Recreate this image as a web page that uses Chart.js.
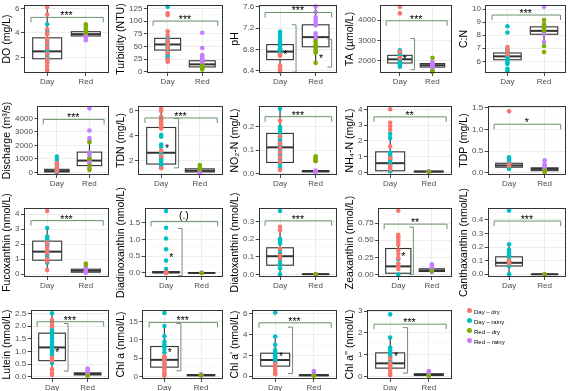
<!DOCTYPE html>
<html>
<head>
<meta charset="utf-8">
<script src="https://cdn.jsdelivr.net/npm/chart.js@4.4.0/dist/chart.umd.min.js"></script>
<style>
  body { margin: 0; background: #fff; width: 575px; height: 391px; overflow: hidden; position: relative; font-family: "Liberation Sans", Arial, sans-serif; }
  .cell { position: absolute; }
  .leg { position: absolute; font-size: 6px; color: #000; white-space: nowrap; line-height: 6px; }
  .leg i { position: absolute; left: -7px; top: -1px; width: 4.6px; height: 4.6px; border-radius: 50%; }
</style>
</head>
<body>
<div id="wrap"></div>
<script>
// groupes et séries
const groups = ['Day', 'Red'];
const seriesNames = ['Day – dry', 'Day – rainy', 'Red – dry', 'Red – rainy'];
const seriesColors = ['#F8766D', '#00BFC4', '#7CAE00', '#C77CFF'];

// boxes: [whisker low, q1, median, q3, whisker high]

// DO (mg/L)
const doDayDry = [6.1, 5.5, 4.3, 3.9, 3.5, 3.2, 2.8, 2.3, 1.9, 1.6, 1.3, 1.0, 0.9];
const doDayRainy = [4.7, 4.1, 3.3, 3.0, 2.7, 2.5, 2.3, 2.2, 2.0, 1.8, 1.6];
const doRedDry = [4.7, 4.5, 4.3, 4.1, 4.0];
const doRedRainy = [3.9, 3.8, 3.7, 3.6, 3.4];
const doBox = [[0.9, 1.9, 2.5, 3.6, 6.1], [3.4, 3.75, 3.9, 4.1, 4.7]];

// Turbidity (NTU)
const turbDayDry = [115, 112, 80, 72, 62, 55, 47, 38, 25, 20];
const turbDayRainy = [128, 66, 62, 58, 55, 52, 50, 45, 40, 35, 30, 27];
const turbRedDry = [13, 11, 9, 7, 5];
const turbRedRainy = [77, 47, 33, 30, 27, 24, 21, 19, 17, 15];
const turbBox = [[20, 43, 54, 66, 81], [4, 10, 15, 22, 33]];

// pH
const phDayDry = [6.7, 6.68, 6.5, 6.46, 6.42, 6.39];
const phDayRainy = [7.13, 7.1, 7.05, 7.0, 6.95, 6.92, 6.88, 6.85, 6.82, 6.8, 6.78, 6.75, 6.72];
const phRedDry = [6.95, 6.9, 6.87, 6.84, 6.8, 6.77, 6.74, 6.55];
const phRedRainy = [7.6, 7.5, 7.4, 7.35, 7.3, 7.25, 7.1, 7.05, 7.0, 6.98];
const phBox = [[6.39, 6.61, 6.76, 6.89, 7.13], [6.55, 6.85, 7.03, 7.26, 7.6]];

// TA (µmol/L)
const taDayDry = [4650, 4330, 2450, 2150];
const taDayRainy = [2520, 2430, 2350, 2280, 2200, 2150, 2080, 2000, 1950, 1880, 1800, 1720];
const taRedDry = [2160, 1500, 1460];
const taRedRainy = [1950, 1880, 1830, 1790, 1750, 1700, 1650, 1600];
const taBox = [[1720, 1900, 2080, 2275, 2520], [1460, 1700, 1790, 1870, 2160]];

// C:N
const cnDayDry = [7.1, 6.8, 6.5];
const cnDayRainy = [8.7, 8.22, 6.95, 6.8, 6.65, 6.55, 6.45, 6.35, 6.25, 6.15, 6.05, 5.9, 5.8, 5.43, 5.24];
const cnRedDry = [9.17, 8.85, 8.55, 8.35, 7.18, 6.71];
const cnRedRainy = [10.2, 8.75, 8.6, 8.45, 8.3, 8.2, 8.1, 7.49];
const cnBox = [[5.8, 6.12, 6.38, 6.64, 7.1], [7.49, 8.08, 8.34, 8.65, 9.17]];

// Discharge (m³/s)
const qDayDry = [675, 420, 200, 120, 60];
const qDayRainy = [1170, 920, 550, 300, 220, 150, 100, 60, 30, 10];
const qRedDry = [2230, 1000, 500, 170];
const qRedRainy = [4750, 3100, 2550, 2370, 1450, 1300, 1100, 880, 750, 600, 450, 300];
const qBox = [[0, 30, 90, 220, 550], [170, 500, 870, 1500, 2230]];

// TDN (mg/L)
const tdnDayDry = [6.15, 5.95, 5.5, 5.3, 5.1, 4.95, 4.8, 4.65, 4.55, 2.8, 2.35, 1.4];
const tdnDayRainy = [4.05, 3.9, 3.28, 3.1, 2.6, 2.4, 2.2, 2.0, 1.8, 1.6, 1.45];
const tdnRedDry = [1.65, 1.45, 1.3];
const tdnRedRainy = [1.2, 1.1, 1.0];
const tdnBox = [[1.37, 1.73, 2.63, 4.64, 6.15], [1.0, 1.1, 1.2, 1.35, 1.65]];

// NO2-N (mg/L)
const no2DayDry = [0.226, 0.16, 0.13, 0.11, 0.09, 0.068, 0.05, 0.015];
const no2DayRainy = [0.278, 0.2, 0.19, 0.18, 0.17, 0.16, 0.15, 0.14, 0.13, 0.12, 0.1, 0.08, 0.06, 0.04, 0.025];
const no2RedDry = [0.073, 0.068, 0.063, 0.058, 0.052];
const no2RedRainy = [0.012, 0.009, 0.007];
const no2Box = [[0.015, 0.047, 0.112, 0.172, 0.278], [0.005, 0.007, 0.009, 0.012, 0.015]];

// NH4-N (mg/L)
const nh4DayDry = [4.0, 3.15, 2.92, 2.7, 1.64, 0.9, 0.4, 0.2];
const nh4DayRainy = [2.43, 2.18, 1.25, 1.1, 0.95, 0.8, 0.65, 0.5, 0.36, 0.15, 0.05];
const nh4RedDry = [0.03];
const nh4RedRainy = [0.06, 0.05, 0.04];
const nh4Box = [[0.05, 0.1, 0.58, 1.3, 2.92], [0.02, 0.03, 0.05, 0.07, 0.09]];

// TDP (mg/L)
const tdpDayDry = [1.42, 0.2, 0.16];
const tdpDayRainy = [0.36, 0.33, 0.3, 0.27, 0.24, 0.21, 0.19, 0.17, 0.15, 0.13, 0.11, 0.09];
const tdpRedDry = [0.05, 0.02];
const tdpRedRainy = [0.29, 0.2, 0.16, 0.12, 0.1, 0.08, 0.06];
const tdpBox = [[0.09, 0.13, 0.17, 0.22, 0.36], [0.02, 0.05, 0.09, 0.115, 0.2]];

// Fucoxanthin (nmol/L)
const fucoDayDry = [4.2, 2.1, 1.8, 1.6, 1.4, 1.0, 0.85, 0.26];
const fucoDayRainy = [3.07, 2.5, 2.4, 2.3, 2.2, 2.0, 1.9, 1.5, 1.3, 1.1, 0.75];
const fucoRedDry = [0.7, 0.6];
const fucoRedRainy = [0.45, 0.35, 0.28, 0.22, 0.15, 0.08];
const fucoBox = [[0.26, 0.92, 1.49, 2.19, 3.07], [0.05, 0.12, 0.22, 0.32, 0.6]];

// Diadinoxanthin (nmol/L)
const diadDayDry = [0.03, 0.02, 0.01, 0.0];
const diadDayRainy = [1.85, 1.35, 1.03, 0.71, 0.37, 0.12, 0.06, 0.03, 0.01, 0.0];
const diadRedDry = [0.0];
const diadRedRainy = [0.01, 0.0];
const diadBox = [[0, 0.005, 0.02, 0.04, 0.08], [0, 0, 0, 0.01, 0.01]];

// Diatoxanthin (nmol/L)
const diatDayDry = [0.27, 0.25, 0.145, 0.108, 0.09];
const diatDayRainy = [0.36, 0.2, 0.19, 0.176, 0.138, 0.12, 0.1, 0.08, 0.06, 0.035, 0.0];
const diatRedDry = [0.0];
const diatRedRainy = [0.001, 0.0];
const diatBox = [[0.0, 0.052, 0.103, 0.151, 0.27], [0, 0, 0.001, 0.002, 0.003]];

// Zeaxanthin (nmol/L)
const zeaDayDry = [0.93, 0.58, 0.55, 0.52, 0.48, 0.43, 0.35, 0.3, 0.24, 0.16, 0.12, 0.08];
const zeaDayRainy = [0.225, 0.0];
const zeaRedDry = [0.05];
const zeaRedRainy = [0.15, 0.12, 0.1, 0.08, 0.06, 0.04];
const zeaBox = [[0.0, 0.02, 0.12, 0.38, 0.58], [0.03, 0.045, 0.06, 0.085, 0.12]];

// Canthaxanthin (nmol/L)
const cantDayDry = [0.1, 0.08];
const cantDayRainy = [0.467, 0.22, 0.18, 0.16, 0.14, 0.12, 0.1, 0.09, 0.075, 0.06, 0.0];
const cantRedDry = [0.0];
const cantRedRainy = [0.0];
const cantBox = [[0.0, 0.061, 0.084, 0.128, 0.22], [0, 0, 0, 0.001, 0.002]];

// Lutein (nmol/L)
const lutDayDry = [2.24, 2.1, 1.98, 0.75, 0.65, 0.3, 0.15, 0.08];
const lutDayRainy = [2.5, 1.85, 1.75, 1.65, 1.55, 1.45, 1.35, 1.25, 1.15, 1.05, 0.95, 0.85, 0.55];
const lutRedDry = [0.05];
const lutRedRainy = [0.33, 0.28, 0.22, 0.18, 0.14, 0.1, 0.06];
const lutBox = [[0.08, 0.64, 1.16, 1.72, 2.5], [0.05, 0.08, 0.12, 0.16, 0.22]];

// Chl a (nmol/L)
const chlaDayDry = [5.5, 4.8, 4.2, 3.5, 2.8, 2.2, 1.5, 0.9, 0.4, 0.2];
const chlaDayRainy = [17.4, 13.8, 11, 9.5, 8.8, 8.2, 7.5, 6.5, 5.0, 4.5, 3.5, 2.5];
const chlaRedDry = [0.3];
const chlaRedRainy = [0.6, 0.4, 0.2];
const chlaBox = [[0.2, 2.55, 4.55, 8.2, 13.8], [0.1, 0.2, 0.35, 0.5, 0.7]];

// Chl a' (nmol/L)
const chla1DayDry = [1.2, 0.9, 0.7, 0.45, 0.3, 0.2];
const chla1DayRainy = [6.07, 3.8, 3.0, 2.5, 2.3, 2.1, 1.9, 1.75, 1.6, 1.45, 1.3];
const chla1RedDry = [0.05];
const chla1RedRainy = [0.5, 0.35, 0.2, 0.1];
const chla1Box = [[0.2, 0.97, 1.55, 2.2, 3.8], [0.0, 0.05, 0.1, 0.15, 0.2]];

// Chl a'' (nmol/L)
const chla2DayDry = [0.82, 0.6, 0.45, 0.3, 0.15, 0.05];
const chla2DayRainy = [2.85, 1.79, 1.33, 1.2, 1.05, 0.95, 0.85, 0.7, 0.55, 0.42];
const chla2RedDry = [0.03];
const chla2RedRainy = [0.25, 0.15, 0.08, 0.04];
const chla2Box = [[0.05, 0.38, 0.6, 1.08, 1.79], [0.0, 0.04, 0.08, 0.12, 0.2]];

// y: [min, max], step = pas des graduations principales, sig = [texte, y du crochet]
// inner = [groupe, y haut, y bas, texte]
const panels = [
  { title: 'DO (mg/L)', pts: [doDayDry, doDayRainy, doRedDry, doRedRainy], box: doBox, y: [0.74, 6.27], step: 2, dec: 0, sig: ['***', 5.26], inner: [] },
  { title: 'Turbidity (NTU)', pts: [turbDayDry, turbDayRainy, turbRedDry, turbRedRainy], box: turbBox, y: [-2, 131.5], step: 25, dec: 0, sig: ['***', 100], inner: [] },
  { title: 'pH', pts: [phDayDry, phDayRainy, phRedDry, phRedRainy], box: phBox, y: [6.36, 7.63], step: 0.4, dec: 1, sig: ['***', 7.49], inner: [[0, 7.26, 6.375, '*'], [1, 6.99, 6.47, '*']] },
  { title: 'TA (µmol/L)', pts: [taDayDry, taDayRainy, taRedDry, taRedRainy], box: taBox, y: [1410, 4738], step: 1000, dec: 0, sig: ['***', 3965], inner: [[0, 3100, 1570, '*']] },
  { title: 'C:N', pts: [cnDayDry, cnDayRainy, cnRedDry, cnRedRainy], box: cnBox, y: [5.1, 10.33], step: 1, dec: 0, sig: ['***', 9.56], inner: [] },

  { title: 'Discharge (m³/s)', pts: [qDayDry, qDayRainy, qRedDry, qRedRainy], box: qBox, y: [-200, 4925], step: 1000, dec: 0, sig: ['***', 3930], inner: [] },
  { title: 'TDN (mg/L)', pts: [tdnDayDry, tdnDayRainy, tdnRedDry, tdnRedRainy], box: tdnBox, y: [0.86, 6.35], step: 2, dec: 0, sig: ['***', 5.4], inner: [[0, 5.35, 1.43, '*']] },
  { title: 'NO₂-N (mg/L)', pts: [no2DayDry, no2DayRainy, no2RedDry, no2RedRainy], box: no2Box, y: [-0.007, 0.29], step: 0.1, dec: 1, sig: ['***', 0.244], inner: [] },
  { title: 'NH₄-N (mg/L)', pts: [nh4DayDry, nh4DayRainy, nh4RedDry, nh4RedRainy], box: nh4Box, y: [-0.17, 4.21], step: 1, dec: 0, sig: ['**', 3.52], inner: [] },
  { title: 'TDP (mg/L)', pts: [tdpDayDry, tdpDayRainy, tdpRedDry, tdpRedRainy], box: tdpBox, y: [-0.05, 1.54], step: 0.5, dec: 1, sig: ['*', 1.12], inner: [] },

  { title: 'Fucoxanthin (nmol/L)', pts: [fucoDayDry, fucoDayRainy, fucoRedDry, fucoRedRainy], box: fucoBox, y: [-0.2, 4.4], step: 1, dec: 0, sig: ['***', 3.56], inner: [] },
  { title: 'Diadinoxanthin (nmol/L)', pts: [diadDayDry, diadDayRainy, diadRedDry, diadRedRainy], box: diadBox, y: [-0.12, 1.94], step: 0.5, dec: 1, sig: ['(.)', 1.54], inner: [[0, 1.33, -0.08, '*']] },
  { title: 'Diatoxanthin (nmol/L)', pts: [diatDayDry, diatDayRainy, diatRedDry, diatRedRainy], box: diatBox, y: [-0.015, 0.377], step: 0.1, dec: 1, sig: ['***', 0.304], inner: [] },
  { title: 'Zeaxanthin (nmol/L)', pts: [zeaDayDry, zeaDayRainy, zeaRedDry, zeaRedRainy], box: zeaBox, y: [-0.035, 0.97], step: 0.25, dec: 2, sig: ['**', 0.735], inner: [[0, 0.69, 0.0, '*']] },
  { title: 'Canthaxanthin (nmol/L)', pts: [cantDayDry, cantDayRainy, cantRedDry, cantRedRainy], box: cantBox, y: [-0.02, 0.486], step: 0.1, dec: 1, sig: ['***', 0.39], inner: [] },

  { title: 'Lutein (nmol/L)', pts: [lutDayDry, lutDayRainy, lutRedDry, lutRedRainy], box: lutBox, y: [-0.08, 2.63], step: 0.5, dec: 1, sig: ['***', 2.17], inner: [[0, 2.1, 0.23, '*']] },
  { title: 'Chl a (nmol/L)', pts: [chlaDayDry, chlaDayRainy, chlaRedDry, chlaRedRainy], box: chlaBox, y: [-0.7, 18.2], step: 5, dec: 0, sig: ['***', 14.8], inner: [[0, 14.5, 1.55, '*']] },
  { title: "Chl a' (nmol/L)", pts: [chla1DayDry, chla1DayRainy, chla1RedDry, chla1RedRainy], box: chla1Box, y: [-0.26, 6.32], step: 2, dec: 0, sig: ['***', 5.1], inner: [[0, 4.68, 0.26, '*']] },
  { title: "Chl a'' (nmol/L)", pts: [chla2DayDry, chla2DayRainy, chla2RedDry, chla2RedRainy], box: chla2Box, y: [-0.12, 3.05], step: 1, dec: 0, sig: ['***', 2.4], inner: [[0, 2.24, 0.15, '*']] }
];

// mise en page
const colX = [0, 114, 228, 343, 457];
const rowTop = [5, 106, 208, 310];
const rowH = [68, 69, 69, 69];
const PAD = 30;
const FONT = '"Liberation Sans", Arial, sans-serif';
const BRACKET = '#6b936b';
const INK = '#333333';

function isMult(v, m) {
  const r = v / m;
  return Math.abs(r - Math.round(r)) < 1e-6;
}

function makePlugin(p) {
  return {
    id: 'boxes',
    beforeDatasetsDraw(chart) {
      const { ctx, scales: { x, y } } = chart;
      ctx.save();
      p.box.forEach((b, g) => {
        const xc = x.getPixelForValue(g);
        const xl = x.getPixelForValue(g - 0.375);
        const xr = x.getPixelForValue(g + 0.375);
        ctx.strokeStyle = INK;
        ctx.lineWidth = 1.1;
        ctx.beginPath();
        ctx.moveTo(xc, y.getPixelForValue(b[0]));
        ctx.lineTo(xc, y.getPixelForValue(b[1]));
        ctx.moveTo(xc, y.getPixelForValue(b[3]));
        ctx.lineTo(xc, y.getPixelForValue(b[4]));
        ctx.stroke();
        const yt = y.getPixelForValue(b[3]);
        const yb = y.getPixelForValue(b[1]);
        ctx.fillStyle = '#fff';
        ctx.fillRect(xl, yt, xr - xl, yb - yt);
        ctx.strokeRect(xl, yt, xr - xl, yb - yt);
        const ym = y.getPixelForValue(b[2]);
        ctx.lineWidth = 2;
        ctx.beginPath();
        ctx.moveTo(xl, ym);
        ctx.lineTo(xr, ym);
        ctx.stroke();
      });
      ctx.restore();
    },
    afterDatasetsDraw(chart) {
      const { ctx, scales: { x, y } } = chart;
      ctx.save();
      ctx.strokeStyle = BRACKET;
      ctx.lineWidth = 1;
      ctx.fillStyle = '#000';
      ctx.font = '10.5px ' + FONT;
      ctx.textAlign = 'center';
      ctx.textBaseline = 'alphabetic';
      // crochet principal
      const yp = y.getPixelForValue(p.sig[1]);
      const xa = x.getPixelForValue(-0.42);
      const xb = x.getPixelForValue(1.45);
      ctx.beginPath();
      ctx.moveTo(xa, yp + 5);
      ctx.lineTo(xa, yp);
      ctx.lineTo(xb, yp);
      ctx.lineTo(xb, yp + 5);
      ctx.stroke();
      const onlyStars = /^\*+$/.test(p.sig[0]);
      ctx.fillText(p.sig[0], x.getPixelForValue(0.5), yp + (onlyStars ? 2 : -2));
      // crochets internes (dry vs rainy)
      p.inner.forEach(([g, hi, lo, lab]) => {
        const xv = x.getPixelForValue(g + 0.45);
        const xt = x.getPixelForValue(g + 0.33);
        const y1 = y.getPixelForValue(hi);
        const y2 = y.getPixelForValue(lo);
        ctx.beginPath();
        ctx.moveTo(xt, y1);
        ctx.lineTo(xv, y1);
        ctx.lineTo(xv, y2);
        ctx.lineTo(xt, y2);
        ctx.stroke();
        ctx.textBaseline = 'top';
        ctx.fillText(lab, x.getPixelForValue(g + 0.15), (y1 + y2) / 2 + 1);
        ctx.textBaseline = 'alphabetic';
      });
      ctx.restore();
    },
    afterDraw(chart) {
      const { ctx, chartArea: a } = chart;
      ctx.save();
      ctx.strokeStyle = INK;
      ctx.lineWidth = 1;
      ctx.strokeRect(Math.round(a.left) + 0.5, Math.round(a.top) + 0.5, Math.round(a.right - a.left) - 1, Math.round(a.bottom - a.top) - 1);
      ctx.restore();
    }
  };
}

const wrap = document.getElementById('wrap');

panels.forEach((p, i) => {
  const col = i % 5;
  const row = Math.floor(i / 5);
  const w = 113;
  const h = PAD + rowH[row] + 15 + PAD;
  const div = document.createElement('div');
  div.className = 'cell';
  div.style.left = colX[col] + 'px';
  div.style.top = (rowTop[row] - PAD) + 'px';
  const cv = document.createElement('canvas');
  cv.width = w;
  cv.height = h;
  cv.style.width = w + 'px';
  cv.style.height = h + 'px';
  div.appendChild(cv);
  wrap.appendChild(div);

  const datasets = p.pts.map((vals, s) => ({
    label: seriesNames[s],
    data: vals.map(v => ({ x: s < 2 ? 0 : 1, y: v })),
    backgroundColor: seriesColors[s],
    borderWidth: 0,
    pointRadius: 2.3,
    clip: false
  }));

  const half = p.step / 2;

  new Chart(cv, {
    type: 'scatter',
    data: { datasets: datasets },
    options: {
      responsive: false,
      animation: false,
      events: [],
      layout: { padding: { top: PAD, bottom: PAD, left: 1, right: 3 } },
      plugins: { legend: { display: false }, tooltip: { enabled: false } },
      scales: {
        x: {
          type: 'linear',
          min: -0.6,
          max: 1.6,
          afterBuildTicks: s => { s.ticks = [{ value: 0 }, { value: 1 }]; },
          afterFit: s => { s.height = 15; },
          ticks: {
            callback: v => groups[v],
            color: '#4d4d4d',
            font: { family: FONT, size: 8 },
            padding: 1,
            maxRotation: 0,
            autoSkip: false
          },
          grid: { color: '#ebebeb', lineWidth: 0.9, tickColor: INK, tickLength: 3 },
          border: { display: false }
        },
        y: {
          min: p.y[0],
          max: p.y[1],
          afterBuildTicks: s => {
            const t = [];
            let k = Math.ceil(p.y[0] / half - 1e-9);
            while (k * half <= p.y[1] + 1e-9) {
              t.push({ value: +(k * half).toFixed(6) });
              k++;
            }
            s.ticks = t;
          },
          ticks: {
            callback: v => isMult(v, p.step) ? Number(v).toFixed(p.dec) : '',
            color: '#4d4d4d',
            font: { family: FONT, size: 8 },
            padding: 1.5,
            autoSkip: false
          },
          grid: {
            color: c => isMult(c.tick.value, p.step) ? '#ebebeb' : '#f3f3f3',
            lineWidth: c => isMult(c.tick.value, p.step) ? 0.9 : 0.5,
            tickColor: c => isMult(c.tick.value, p.step) ? INK : 'rgba(0,0,0,0)',
            tickLength: 3
          },
          border: { display: false },
          title: {
            display: true,
            text: p.title,
            color: '#000',
            font: { family: FONT, size: 10.5, lineHeight: 1.1 },
            padding: { top: 0, bottom: 1 }
          }
        }
      }
    },
    plugins: [makePlugin(p)]
  });
});

// légende
const legTop = [312, 322, 332, 342];
seriesNames.forEach((name, s) => {
  const d = document.createElement('div');
  d.className = 'leg';
  d.style.left = '474px';
  d.style.top = (legTop[s] - 3) + 'px';
  d.innerHTML = '<i style="background:' + seriesColors[s] + '"></i>' + name;
  document.body.appendChild(d);
});
</script>
</body>
</html>
